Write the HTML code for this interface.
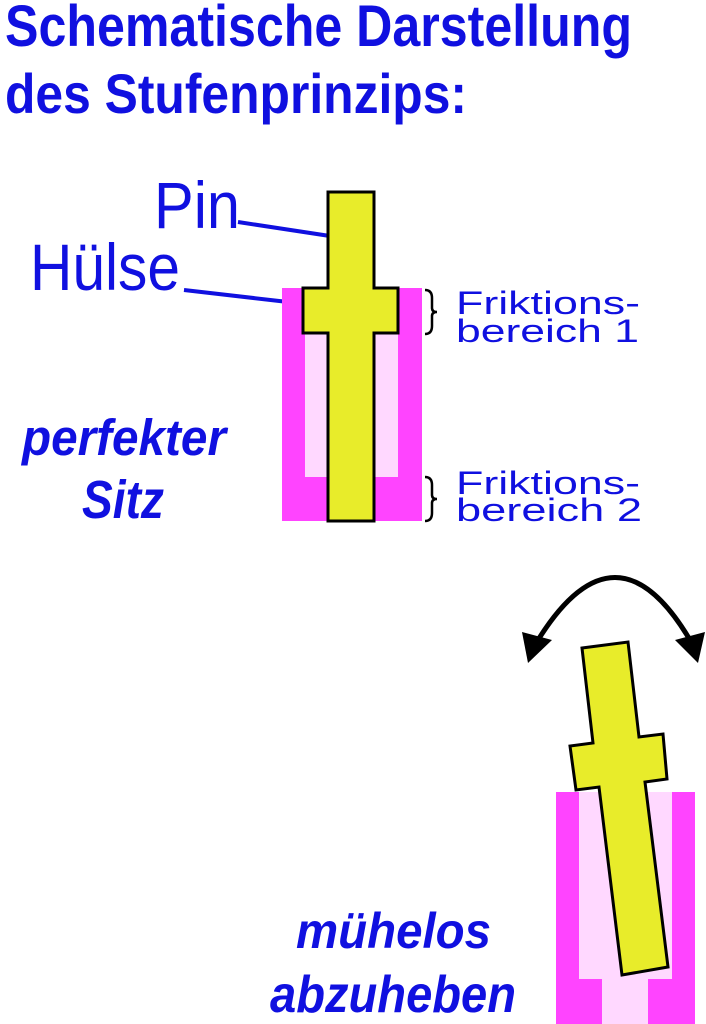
<!DOCTYPE html>
<html><head><style>body{margin:0;background:#fff}svg{display:block}</style></head><body>
<svg width="706" height="1024" viewBox="0 0 706 1024" xmlns="http://www.w3.org/2000/svg">
<g fill="#1010e0" font-family="Liberation Sans, sans-serif">
<text x="5" y="46" font-size="58" font-weight="bold" textLength="627" lengthAdjust="spacingAndGlyphs">Schematische Darstellung</text>
<text x="5" y="113" font-size="56" font-weight="bold" textLength="462" lengthAdjust="spacingAndGlyphs">des Stufenprinzips:</text>
<text x="154" y="228" font-size="66" textLength="86" lengthAdjust="spacingAndGlyphs">Pin</text>
<text x="30" y="290" font-size="66" textLength="150" lengthAdjust="spacingAndGlyphs">Hülse</text>
<text x="456" y="314" font-size="32" textLength="184" lengthAdjust="spacingAndGlyphs">Friktions-</text>
<text x="456" y="342" font-size="32" textLength="183" lengthAdjust="spacingAndGlyphs">bereich 1</text>
<text x="456" y="494" font-size="32" textLength="184" lengthAdjust="spacingAndGlyphs">Friktions-</text>
<text x="456" y="521" font-size="32" textLength="186" lengthAdjust="spacingAndGlyphs">bereich 2</text>
<g font-weight="bold" font-style="italic">
<text x="22" y="455" font-size="51" textLength="204" lengthAdjust="spacingAndGlyphs">perfekter</text>
<text x="82" y="518" font-size="54" textLength="82" lengthAdjust="spacingAndGlyphs">Sitz</text>
<text x="296" y="948" font-size="50" textLength="195" lengthAdjust="spacingAndGlyphs">mühelos</text>
<text x="270" y="1012" font-size="52" textLength="246" lengthAdjust="spacingAndGlyphs">abzuheben</text>
</g>
</g>
<g stroke="#1010e0" stroke-width="4">
<line x1="238" y1="222" x2="343" y2="238"/>
<line x1="184" y1="290" x2="288" y2="302"/>
</g>
<rect x="282" y="288" width="140" height="233" fill="#ff44ff"/>
<rect x="305" y="333" width="93" height="144" fill="#ffd8ff"/>
<path d="M328,192 H374 V288 H398 V333 H374 V521 H328 V333 H303 V288 H328 Z" fill="#e8ec2a" stroke="#000" stroke-width="3"/>
<g fill="none" stroke="#000" stroke-width="2.5">
<path d="M425,290 q7,0 7,8 v10 q0,4 5,4 q-5,0 -5,4 v10 q0,8 -7,8"/>
<path d="M425,477 q7,0 7,8 v10 q0,4 5,4 q-5,0 -5,4 v10 q0,8 -7,8"/>
</g>
<rect x="556" y="792" width="139" height="232" fill="#ff44ff"/>
<rect x="579" y="792" width="93" height="187" fill="#ffd8ff"/>
<rect x="602" y="979" width="46" height="45" fill="#ffd8ff"/>
<path d="M582,648 L628,642 L639,737 L663,734 L667,779 L645,782 L668,967 L622,975 L599,787 L576,790 L570,746 L593,743 Z" fill="#e8ec2a" stroke="#000" stroke-width="3"/>
<path d="M538,640 Q616,515 690,640" fill="none" stroke="#000" stroke-width="5"/>
<polygon points="522,632 552,640 528,663" fill="#000"/>
<polygon points="675,640 705,632 698,663" fill="#000"/>
</svg>
</body></html>
